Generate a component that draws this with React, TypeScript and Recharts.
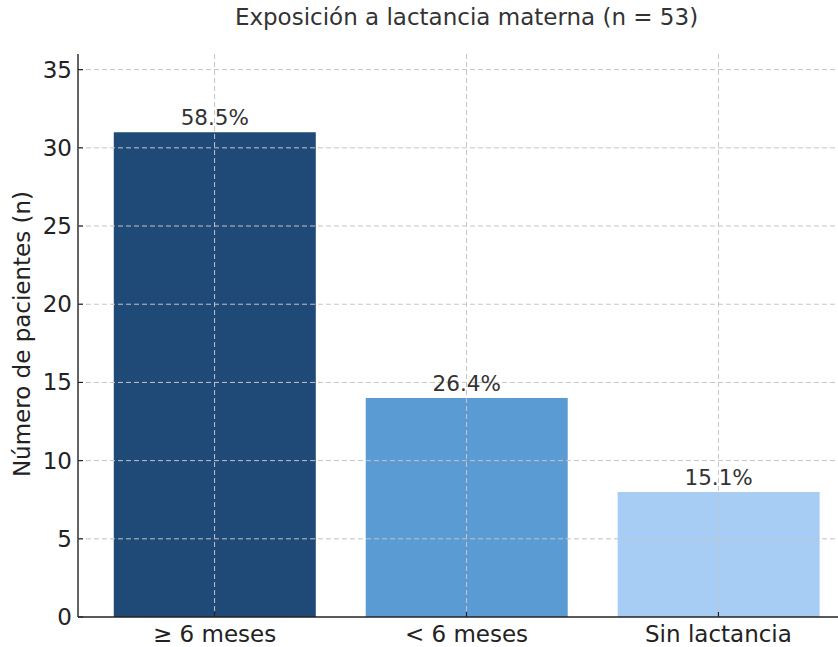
import { BarChart, Bar, XAxis, YAxis, CartesianGrid, Cell, LabelList } from 'recharts'

const categories = ['≥ 6 meses', '< 6 meses', 'Sin lactancia']
const patients = [31, 14, 8]
const barColors = ['#1f4a77', '#5b9bd3', '#a8cdf4']
const yTicks = [0, 5, 10, 15, 20, 25, 30, 35]
const total = 53

const FONT = '"DejaVu Sans", sans-serif'

const data = categories.map((name, i) => ({ name, value: patients[i] }))

function XTick({ x, y, payload }: any) {
  return (
    <g>
      <line x1={x} x2={x} y1={y} y2={y - 5} stroke="#222" strokeWidth={1.2} />
      <text x={x} y={y + 25} textAnchor="middle" fontSize={23} fill="#222" fontFamily={FONT}>
        {payload.value}
      </text>
    </g>
  )
}

function YTick({ x, y, payload }: any) {
  return (
    <g>
      <line x1={x} x2={x + 5} y1={y} y2={y} stroke="#222" strokeWidth={1.2} />
      <text x={x - 6} y={y + 8} textAnchor="end" fontSize={23} fill="#222" fontFamily={FONT}>
        {payload.value}
      </text>
    </g>
  )
}

export default function App() {
  return (
    <div style={{ position: 'absolute', left: 0, top: 0, width: 838, height: 647, overflow: 'hidden', background: '#fff', fontFamily: FONT }}>
      <div style={{ position: 'absolute', left: 78, width: 777, top: 4, textAlign: 'center', fontSize: 23, color: '#333' }}>
        Exposición a lactancia materna (n = 53)
      </div>
      <div
        style={{
          position: 'absolute',
          left: 22,
          top: 334,
          transform: 'translate(-50%, -50%) rotate(-90deg)',
          whiteSpace: 'nowrap',
          fontSize: 23,
          color: '#222',
        }}
      >
        Número de pacientes (n)
      </div>
      <BarChart
        width={860}
        height={647}
        data={data}
        margin={{ top: 54, right: 5, bottom: 0, left: 0 }}
        barCategoryGap="10%"
        style={{ position: 'absolute', left: 0, top: 0 }}
      >
        <XAxis
          dataKey="name"
          height={30}
          padding={{ left: 10.6, right: 10.6 }}
          tickSize={0}
          tickMargin={0}
          tickLine={false}
          tick={<XTick />}
          axisLine={{ stroke: '#222', strokeWidth: 1.4 }}
        />
        <YAxis
          width={78}
          domain={[0, 36]}
          ticks={yTicks}
          interval={0}
          tickSize={0}
          tickMargin={0}
          tickLine={false}
          tick={<YTick />}
          axisLine={{ stroke: '#222', strokeWidth: 1.4 }}
        />
        <Bar dataKey="value" isAnimationActive={false}>
          {data.map((d, i) => (
            <Cell key={d.name} fill={barColors[i]} />
          ))}
          <LabelList
            dataKey="value"
            position="top"
            offset={7}
            formatter={(v: any) => `${((Number(v) / total) * 100).toFixed(1)}%`}
            style={{ fontSize: 21.5, fill: '#333', fontFamily: FONT }}
          />
        </Bar>
        <CartesianGrid
          stroke="#c4c4c4"
          strokeDasharray="5 3"
          strokeWidth={1}
          horizontalValues={yTicks.filter((t) => t > 0)}
          verticalValues={categories}
          zIndex={1000}
        />
      </BarChart>
    </div>
  )
}
